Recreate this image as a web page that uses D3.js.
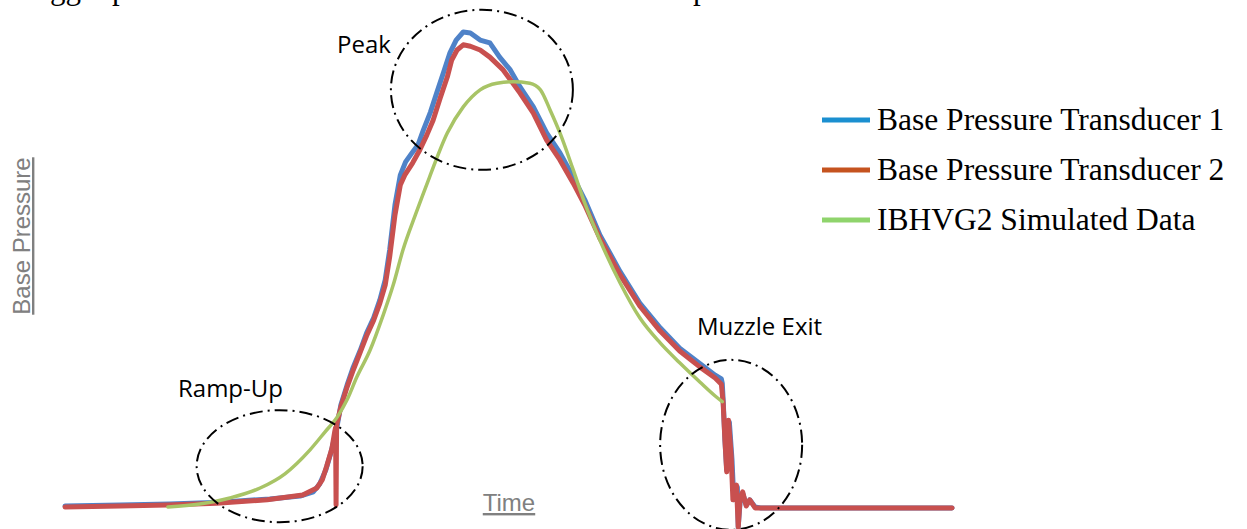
<!DOCTYPE html>
<html>
<head>
<meta charset="utf-8">
<script src="https://cdn.jsdelivr.net/npm/d3@7"></script>
<style>
  body { margin: 0; background: #fff; }
  svg { display: block; }
</style>
</head>
<body>
<svg id="chart" width="1247" height="529"></svg>
<script>
// ---- data (time and pressure in arbitrary units) ----
var t1Time = [0, 6.2, 11.8, 17.5, 23.1, 26.5, 28.0, 28.7, 29.4, 30.0, 30.6, 31.1, 31.8, 32.5, 33.3, 34.0, 34.8, 35.5, 36.1, 36.6, 37.2, 37.8, 38.4, 39.2, 39.8, 40.4, 41.2, 41.9, 42.7, 43.4, 44.1, 44.9, 45.7, 46.8, 47.9, 49.0, 50.2, 51.3, 52.8, 54.3, 55.8, 57.3, 58.6, 60.3, 62.6, 64.8, 67.1, 69.3, 71.6, 73.3, 74.0, 74.1, 74.2, 74.4, 74.6, 74.9, 75.2, 75.4, 75.8, 75.9, 76.1, 76.4, 76.8, 77.2, 77.8, 78.4, 82.9, 94.1, 100];
var t1Pressure = [0, 0.2, 0.4, 0.8, 1.5, 2.1, 3.0, 4.6, 7.6, 11.4, 16.0, 21.3, 25.5, 29.3, 32.9, 36.5, 39.7, 43.5, 47.7, 54.0, 63.5, 69.8, 72.6, 74.7, 76.2, 79.3, 83.1, 87.1, 91.6, 95.6, 98.3, 100, 99.8, 98.3, 97.7, 94.7, 92.0, 88.4, 84.2, 78.7, 74.5, 69.4, 64.6, 57.2, 49.4, 42.8, 37.6, 33.3, 30.0, 27.6, 26.8, 25.9, 22.4, 13.9, 7.6, 17.7, 9.7, 1.3, 4.0, -4.4, 0.6, 2.7, 0.2, 1.3, -0.2, -0.4, -0.4, -0.4, -0.4];

var t2Time = [0, 6.2, 11.5, 17.1, 22.8, 26.8, 28.4, 29.0, 29.5, 30.1, 30.4, 30.5, 30.56, 30.62, 31.1, 31.8, 32.5, 33.3, 34.0, 34.8, 35.5, 36.1, 36.6, 37.2, 37.8, 38.3, 39.2, 40.0, 40.8, 41.5, 42.3, 43.1, 43.6, 44.2, 44.9, 45.7, 46.8, 47.9, 49.4, 51.3, 52.8, 54.3, 55.8, 57.3, 58.6, 60.3, 62.6, 64.8, 67.1, 69.3, 71.6, 73.3, 74.0, 74.2, 74.4, 74.6, 74.8, 75.1, 75.3, 75.7, 75.9, 76.1, 76.4, 76.8, 77.2, 77.8, 78.4, 82.9, 94.1, 100];
var t2Pressure = [-0.2, 0, 0.2, 0.6, 1.3, 2.3, 3.8, 5.5, 8.4, 12.2, 15.6, 16.5, 0.2, 17.1, 20.9, 25.1, 28.7, 32.5, 35.9, 39.2, 42.8, 46.6, 52.5, 61.4, 67.7, 69.8, 72.4, 75.1, 78.3, 81.4, 86.1, 90.5, 94.1, 96.2, 97.3, 97.0, 96.2, 94.7, 92.0, 87.1, 82.9, 77.2, 73.0, 68.1, 63.5, 56.5, 48.7, 42.2, 36.9, 32.7, 29.3, 27.0, 25.7, 21.7, 13.9, 7.2, 18.1, 10.8, 1.3, 4.4, -4.4, 1.3, 3.0, 0, 1.3, -0.4, -0.4, -0.4, -0.4, -0.4];

var simTime = [11.6, 15.2, 18.6, 22.0, 24.8, 27.6, 29.3, 30.7, 31.8, 32.9, 34.4, 35.8, 37.0, 38.1, 39.5, 41.1, 43.1, 44.9, 46.8, 48.7, 50.5, 52.4, 53.6, 54.7, 55.8, 57.3, 58.6, 60.3, 62.6, 64.8, 67.1, 69.3, 71.6, 73.3, 74.1];
var simPressure = [-0.2, 0.4, 1.7, 3.8, 6.8, 11.8, 15.6, 18.8, 22.4, 27.2, 32.9, 39.9, 46.6, 54.0, 61.4, 69.4, 78.7, 84.2, 87.8, 89.2, 89.5, 89.2, 87.8, 83.5, 78.7, 70.9, 63.9, 56.1, 47.0, 39.7, 34.4, 30.2, 26.1, 23.2, 22.0];

var seriesNames = ["Base Pressure Transducer 1", "Base Pressure Transducer 2", "IBHVG2 Simulated Data"];

// annotation labels
var regionLabels = ["Ramp-Up", "Peak", "Muzzle Exit"];

// ---- layout ----
var svg = d3.select("#chart");
var x = d3.scaleLinear().domain([0, 100]).range([65, 952]);
var y = d3.scaleLinear().domain([0, 100]).range([506, 32]);

var traces = [
  { name: seriesNames[0], time: t1Time, value: t1Pressure, color: "#4f82c8", legend: "#1b8fd0", width: 5, curve: d3.curveLinear },
  { name: seriesNames[1], time: t2Time, value: t2Pressure, color: "#c8504f", legend: "#c5531f", width: 5, curve: d3.curveLinear },
  { name: seriesNames[2], time: simTime, value: simPressure, color: "#a8c466", legend: "#8fd46c", width: 3.5, curve: d3.curveMonotoneX }
];

// cut-off paragraph text at the very top (only the descenders show, as in the source)
var topText = svg.append("g")
  .style("font-family", "'Liberation Serif', 'Times New Roman', serif")
  .style("font-size", "31px")
  .attr("fill", "#000");
topText.append("text").attr("x", 50).attr("y", -1).text("gg");
topText.append("text").attr("x", 112).attr("y", -1).text("p");
topText.append("text").attr("x", 693).attr("y", -1).text("p");

// traces
var line = function(tr) {
  return d3.line()
    .x(function(d, i) { return x(tr.time[i]); })
    .y(function(d) { return y(d); })
    .curve(tr.curve)(tr.value);
};

svg.append("g")
  .attr("class", "traces")
  .selectAll("path")
  .data(traces)
  .enter()
  .append("path")
    .attr("d", function(d) { return line(d); })
    .attr("fill", "none")
    .attr("stroke", function(d) { return d.color; })
    .attr("stroke-width", function(d) { return d.width; })
    .attr("stroke-linejoin", "round")
    .attr("stroke-linecap", "round");

// dash-dot ellipses round the regions of interest (centres in data units)
var regions = [
  { label: regionLabels[0], cx: 24.2, cy: 8.4, rx: 83, ry: 56, lx: 178, ly: 397 },
  { label: regionLabels[1], cx: 47.0, cy: 87.8, rx: 91, ry: 80, lx: 337, ly: 53 },
  { label: regionLabels[2], cx: 75.1, cy: 12.9, rx: 71, ry: 85, lx: 697, ly: 335 }
];

svg.append("g")
  .attr("class", "regions")
  .selectAll("ellipse")
  .data(regions)
  .enter()
  .append("ellipse")
    .attr("cx", function(d) { return x(d.cx); })
    .attr("cy", function(d) { return y(d.cy); })
    .attr("rx", function(d) { return d.rx; })
    .attr("ry", function(d) { return d.ry; })
    .attr("fill", "none")
    .attr("stroke", "#000")
    .attr("stroke-width", 2)
    .attr("stroke-dasharray", "13,5,2,5");

svg.append("g")
  .selectAll("text")
  .data(regions)
  .enter()
  .append("text")
    .attr("x", function(d) { return d.lx; })
    .attr("y", function(d) { return d.ly; })
    .style("font-family", "'Open Sans', sans-serif")
    .style("font-size", "24px")
    .attr("fill", "#000")
    .text(function(d) { return d.label; });

// axis titles (no ticks in the original)
svg.append("text")
  .attr("x", 509)
  .attr("y", 511)
  .attr("text-anchor", "middle")
  .style("font-family", "'Liberation Sans', Arial, sans-serif")
  .style("font-size", "24px")
  .style("text-decoration", "underline")
  .attr("fill", "#808080")
  .text("Time");

svg.append("text")
  .attr("transform", "translate(30,236) rotate(-90)")
  .attr("text-anchor", "middle")
  .style("font-family", "'Liberation Sans', Arial, sans-serif")
  .style("font-size", "24px")
  .style("text-decoration", "underline")
  .attr("fill", "#808080")
  .text("Base Pressure");

// legend
var legend = svg.append("g").attr("class", "legend");
var items = legend.selectAll("g")
  .data(traces)
  .enter()
  .append("g")
    .attr("transform", function(d, i) { return "translate(0," + (i * 50) + ")"; });

items.append("line")
  .attr("x1", 822).attr("x2", 870)
  .attr("y1", 120).attr("y2", 120)
  .attr("stroke", function(d) { return d.legend; })
  .attr("stroke-width", 5);

items.append("text")
  .attr("x", 877)
  .attr("y", 130)
  .style("font-family", "'Liberation Serif', 'Times New Roman', serif")
  .style("font-size", "31.5px")
  .attr("fill", "#000")
  .text(function(d) { return d.name; });
</script>
</body>
</html>
